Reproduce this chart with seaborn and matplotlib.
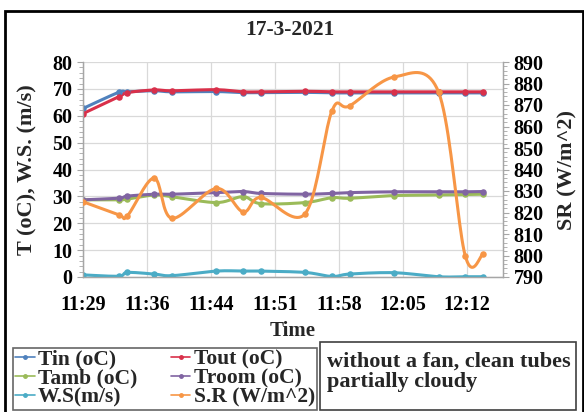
import numpy as np
import pandas as pd
import matplotlib
matplotlib.use("Agg")
import matplotlib.pyplot as plt
from matplotlib.lines import Line2D
from matplotlib.patches import Rectangle
import seaborn as sns

# minutes after the first reading (axis starts at ~11:29:40)
minutes = [0, 4, 5, 8, 10, 15, 18, 20, 25, 28, 30, 35, 40, 43, 45]
tin = [62.7, 68.7, 68.9, 69.3, 68.9, 69.0, 68.6, 68.6, 68.7, 68.5, 68.5, 68.5, 68.5, 68.5, 68.5]
tout = [60.8, 67.0, 68.6, 69.6, 69.3, 69.7, 68.9, 68.9, 69.1, 68.9, 68.9, 68.9, 68.9, 68.9, 68.9]
tamb = [28.7, 28.7, 29.0, 30.5, 29.9, 27.7, 29.9, 27.3, 27.7, 29.5, 29.3, 30.3, 30.5, 30.7, 30.8]
troom = [28.7, 29.3, 30.1, 30.8, 30.8, 31.4, 31.8, 31.1, 30.8, 31.1, 31.4, 31.7, 31.7, 31.7, 31.8]
ws = [0.8, 0.3, 1.7, 1.1, 0.5, 2.2, 2.2, 2.2, 1.7, 0.2, 1.1, 1.6, 0.1, 0.1, 0.1]
sr = [825, 819, 818.5, 836, 817.3, 831.2, 820.3, 827, 819.5, 867.2, 869.6, 883, 876, 799.9, 800.7]

tick_labels = ["11:29", "11:36", "11:44", "11:51", "11:58", "12:05", "12:12"]
left_names = ["Tin (oC)", "Tout (oC)", "Tamb (oC)", "Troom (oC)", "W.S(m/s)"]
right_name = "S.R (W/m^2)"
colors = {"Tin (oC)": "#4F81BD", "Tout (oC)": "#D9304A", "Tamb (oC)": "#9BBB59",
          "Troom (oC)": "#8064A2", "W.S(m/s)": "#4BACC6", "S.R (W/m^2)": "#F79646"}


def smooth(x, y, n=20):
    # Excel style smoothed line (Bezier through the points)
    x = np.asarray(x, float)
    y = np.asarray(y, float)
    px, py = [], []
    for i in range(len(x) - 1):
        x0, y0 = x[max(i - 1, 0)], y[max(i - 1, 0)]
        x3, y3 = x[min(i + 2, len(x) - 1)], y[min(i + 2, len(x) - 1)]
        c1x, c1y = x[i] + (x[i + 1] - x0) / 6, y[i] + (y[i + 1] - y0) / 6
        c2x, c2y = x[i + 1] - (x3 - x[i]) / 6, y[i + 1] - (y3 - y[i]) / 6
        s = np.linspace(0, 1, n, endpoint=False)
        px.extend((1 - s) ** 3 * x[i] + 3 * (1 - s) ** 2 * s * c1x + 3 * (1 - s) * s ** 2 * c2x + s ** 3 * x[i + 1])
        py.extend((1 - s) ** 3 * y[i] + 3 * (1 - s) ** 2 * s * c1y + 3 * (1 - s) * s ** 2 * c2y + s ** 3 * y[i + 1])
    px.append(x[-1])
    py.append(y[-1])
    return px, py


sns.set_style("white")
plt.rcParams["font.family"] = ["Liberation Serif", "DejaVu Serif"]
plt.rcParams["font.weight"] = "bold"

fig = plt.figure(figsize=(5.84, 4.12), dpi=100)
ax = fig.add_axes([83 / 584, 1 - 277 / 412, 420 / 584, 215 / 412])
ax2 = ax.twinx()

points = pd.DataFrame({"t": minutes, "Tin (oC)": tin, "Tout (oC)": tout, "Tamb (oC)": tamb,
                       "Troom (oC)": troom, "W.S(m/s)": ws, "S.R (W/m^2)": sr})

for name in left_names:
    sx, sy = smooth(points["t"], points[name])
    sns.lineplot(x=sx, y=sy, ax=ax, color=colors[name], lw=2.2, sort=False, zorder=3)
    sns.scatterplot(x=points["t"], y=points[name], ax=ax, color=colors[name], s=22,
                    edgecolor=colors[name], linewidth=0, zorder=4)
sx, sy = smooth(points["t"], points[right_name])
sns.lineplot(x=sx, y=sy, ax=ax2, color=colors[right_name], lw=2.2, sort=False, zorder=3)
sns.scatterplot(x=points["t"], y=points[right_name], ax=ax2, color=colors[right_name], s=22,
                linewidth=0, zorder=4)

xticks = [7.2 * i for i in range(len(tick_labels))]
ax.set_xlim(0, 47.25)
ax.set_ylim(0, 80)
ax2.set_ylim(790, 890)
ax.set_xticks(xticks)
ax.set_xticklabels(tick_labels)
ax.set_xticks(np.arange(0, 47.25, 1.44), minor=True)
ax.set_yticks(range(0, 81, 10))
ax.set_yticks(np.arange(0, 81, 2), minor=True)
ax2.set_yticks(range(790, 891, 10))
ax2.set_yticks(np.arange(790, 891, 2), minor=True)
ax.grid(True, which="major", color="#D9D9D9", lw=0.9)
ax.set_axisbelow(True)

for a in (ax, ax2):
    for side in a.spines:
        a.spines[side].set_color("#A6A6A6")
        a.spines[side].set_linewidth(0.9)
    a.spines["top"].set_visible(False)
ax.tick_params(axis="both", which="both", colors="#A6A6A6", labelcolor="black",
               labelsize=14.5, direction="out")
ax.tick_params(which="major", length=4)
ax.tick_params(which="minor", length=3)
ax2.tick_params(axis="y", which="both", colors="#A6A6A6", labelcolor="black",
                labelsize=14.5, direction="out")
ax2.tick_params(which="major", length=4)
ax2.tick_params(which="minor", length=3)
ax.tick_params(axis="x", pad=9)

ax.set_xlabel("Time", fontsize=15, fontweight="bold", labelpad=4)
ax.set_ylabel("T (oC), W.S. (m/s)", fontsize=16, fontweight="bold", labelpad=11)
ax2.set_ylabel("SR (W/m^2)", fontsize=16, fontweight="bold", labelpad=10)
fig.text(290 / 584, 1 - 30 / 412, "17-3-2021", ha="center", va="center",
         fontsize=15.5, fontweight="bold")

# legend box (two columns)
order = ["Tin (oC)", "Tamb (oC)", "W.S(m/s)", "Tout (oC)", "Troom (oC)", "S.R (W/m^2)"]
handles = [Line2D([], [], color=colors[n], lw=1.2, marker="o", markersize=2.5) for n in order]
leg = fig.legend(handles, order, ncol=2, loc="lower left",
                 bbox_to_anchor=(13 / 584, 2 / 412, 304 / 584, 70 / 412), mode="expand",
                 fontsize=15.5, frameon=True, fancybox=False, edgecolor="#404040",
                 handlelength=0.9, handletextpad=0.15, columnspacing=0.3,
                 labelspacing=-0.05, borderpad=0.1, borderaxespad=0)
leg.get_frame().set_linewidth(1.2)

# note box
fig.patches.append(Rectangle((320 / 584, 2 / 412), 256 / 584, 68 / 412, transform=fig.transFigure,
                             fill=False, edgecolor="#404040", lw=1.2))
fig.text(327 / 584, 1 - 372 / 412, "without a fan, clean tubes\npartially cloudy",
         ha="left", va="center", fontsize=16, fontweight="bold", linespacing=1.05)

# outer chart border
fig.patches.append(Rectangle((5 / 584, -0.05), 0.99, 1 - 11 / 412 + 0.05, transform=fig.transFigure,
                             fill=False, edgecolor="black", lw=2))

fig.savefig("out.png", dpi=100)
